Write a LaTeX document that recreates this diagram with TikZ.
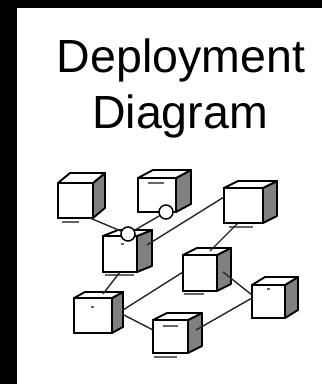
\documentclass[tikz,border=0pt]{standalone}
\usepackage{fontspec}
\setmainfont{Liberation Sans}

\tikzset{
  devfront/.style={draw=black, fill=white, line width=1.9pt, inner sep=0pt, outer sep=0pt},
  devside/.style={draw=black, fill=black!50, line width=1.9pt, line join=round},
  devtop/.style={draw=black, fill=white, line width=1.9pt, line join=round},
  link/.style={draw=black!85, line width=1.4pt},
  port/.style={circle, draw=black, fill=white, line width=1.5pt, minimum size=14pt, inner sep=0pt},
  tick/.style={draw=black!60, line width=1.4pt},
  title/.style={font=\fontsize{46.5}{56}\selectfont, inner sep=0pt, anchor=base}
}

% \devcube{name}{x1}{y1}{x2}{y2}{depth x}{depth y}: front face from (x1,y1) to (x2,y2)
\newcommand\devcube[7]{%
  \filldraw[devside] (#4,#3) -- ++(#6,-#7) -- ++(0,#5-#3) -- (#4,#5) -- cycle;
  \filldraw[devtop] (#2,#3) -- ++(#6,-#7) -- (#4+#6,#3-#7) -- (#4,#3) -- cycle;
  \node[devfront, minimum width={(#4-#2)*1pt}, minimum height={(#5-#3)*1pt}]
    (#1) at ({(#2+#4)/2},{(#3+#5)/2}) {};
}

\begin{document}
\begin{tikzpicture}[x=1pt, y=-1pt]
  % frame
  \fill[black] (0,0) rectangle (322,384);
  \fill[white] (17,8) rectangle (322,384);
  \useasboundingbox (0,0) rectangle (322,384);

  % heading
  \node[title] (t1) at (181,72) {Deployment};
  \node[title] (t2) at (180,128) {Diagram};

  % device nodes
  \devcube{A}{58}{183}{93}{218}{12}{10}
  \devcube{B}{138}{178}{176}{212}{15}{8}
  \devcube{C}{224}{188}{263}{223}{14}{7}
  \devcube{D}{103}{236}{137}{272}{15}{6}
  \devcube{E}{183}{255}{217}{291}{14}{7}
  \devcube{F}{74}{298}{112}{333}{11}{6}
  \devcube{G}{153}{320}{188}{353}{14}{7}
  \devcube{H}{252}{285}{285}{318}{13}{8}

  % small markings on and below the devices
  \draw[tick] (62,222) -- (79,222);
  \draw[tick] (148,183) -- (164,183);
  \draw[tick] (229,227) -- (253,227);
  \draw[tick] (105,275) -- (134,275);
  \draw[tick] (120.5,244) -- (123.5,244);
  \draw[tick] (184,294) -- (204,294);
  \draw[tick] (90.5,307) -- (93.5,307);
  \draw[tick] (163,326) -- (178,326);
  \draw[tick] (154,357) -- (177,357);
  \draw[tick] (266.5,289) -- (269.5,289);

  % interface points
  \coordinate (dp) at (128,234);
  \coordinate (bp) at (166,212);

  % connections
  \draw[link] ([xshift=-3pt]A.south east) -- (dp);
  \draw[link] (bp) -- (dp);
  \draw[link] ([xshift=10pt,yshift=-9pt]D.north east) -- ([yshift=-9pt]C.north west);
  \draw[link] ([xshift=14pt]C.south west) -- ([xshift=27pt,yshift=4pt]E.north west);
  \draw[link] ([xshift=17pt]D.south west) -- ([xshift=29pt,yshift=4pt]F.north west);
  \draw[link] ([xshift=11pt,yshift=-12pt]F.north east) -- ([yshift=-17pt]E.north west);
  \draw[link] ([xshift=10pt,yshift=-16pt]F.north east) -- ([yshift=-10pt]G.north west);
  \draw[link] ([xshift=6pt,yshift=-17pt]E.north east) -- ([yshift=-10pt]H.north west);
  \draw[link] ([xshift=8pt,yshift=-10pt]G.north east) -- ([yshift=-13pt]H.north west);

  % lollipop interfaces
  \node[port] (Dport) at (dp) {};
  \node[port] (Bport) at (bp) {};
\end{tikzpicture}
\end{document}
